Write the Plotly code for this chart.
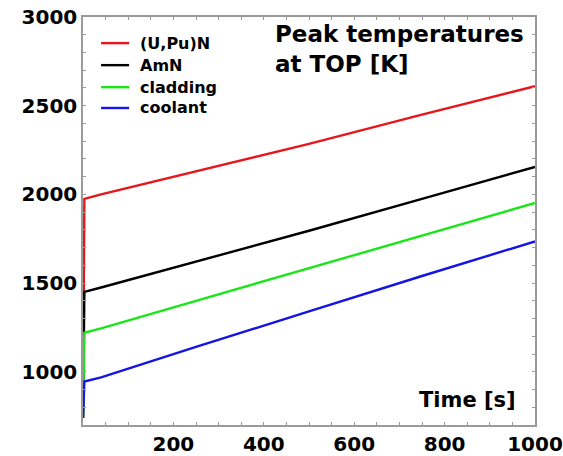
import plotly.graph_objects as go

time_s = [0, 3, 40, 250, 500, 750, 1000]
series_names = ["(U,Pu)N", "AmN", "cladding", "coolant"]
t_unpu = [740, 1975, 2000, 2130, 2285, 2450, 2610]
t_amn = [740, 1450, 1475, 1620, 1795, 1975, 2155]
t_clad = [740, 1220, 1245, 1400, 1582, 1768, 1952]
t_cool = [740, 945, 968, 1140, 1340, 1540, 1735]
colors = ["#e8151b", "#000000", "#19e619", "#1414e6"]
series = [t_unpu, t_amn, t_clad, t_cool]

x_ticks = [200, 400, 600, 800, 1000]
y_ticks = [1000, 1500, 2000, 2500, 3000]

FONT = "DejaVu Sans"

fig = go.Figure()
for name, vals, col in zip(series_names, series, colors):
    fig.add_trace(go.Scatter(x=time_s, y=vals, mode="lines", name=name,
                             showlegend=False,
                             line=dict(color=col, width=2.4)))

axis_common = dict(showgrid=False, zeroline=False, showline=True, mirror="ticks",
                   linecolor="#9a9a9a", linewidth=1.5, ticks="inside", ticklen=3,
                   tickcolor="#9a9a9a", automargin=False,
                   tickfont=dict(family=FONT, size=20, color="#000000", weight="bold"))

# legend drawn as line samples + text labels
legend_y = [0.936, 0.882, 0.828, 0.777]
shapes = []
annotations = []
for name, col, ly in zip(series_names, colors, legend_y):
    shapes.append(dict(type="line", xref="paper", yref="paper", x0=0.040, x1=0.102,
                       y0=ly, y1=ly, line=dict(color=col, width=2.4)))
    annotations.append(dict(text=name, xref="paper", yref="paper", x=0.122, y=ly,
                            xanchor="left", yanchor="middle", showarrow=False,
                            font=dict(family=FONT, size=16, color="#000000", weight="bold")))

annotations += [
    dict(text="Peak temperatures<br>at TOP [K]", xref="paper", yref="paper",
         x=0.98, y=0.995, xanchor="right", yanchor="top", showarrow=False, align="left",
         font=dict(family=FONT, size=23, color="#000000", weight="bold")),
    dict(text="Time [s]", xref="paper", yref="paper",
         x=0.962, y=0.062, xanchor="right", yanchor="middle", showarrow=False,
         font=dict(family=FONT, size=21, color="#000000", weight="bold")),
]

fig.update_layout(
    width=563, height=456,
    margin=dict(l=83, r=28, t=17, b=31),
    paper_bgcolor="white", plot_bgcolor="white",
    showlegend=False,
    xaxis=dict(range=[0, 1000], tickvals=x_ticks,
               minor=dict(ticks="inside", ticklen=3, tickcolor="#9a9a9a", dtick=50),
               **axis_common),
    yaxis=dict(range=[700, 3000], tickvals=y_ticks,
               minor=dict(ticks="inside", ticklen=3, tickcolor="#9a9a9a", dtick=100),
               **axis_common),
    shapes=shapes,
    annotations=annotations,
)

fig.write_html("out.html")
